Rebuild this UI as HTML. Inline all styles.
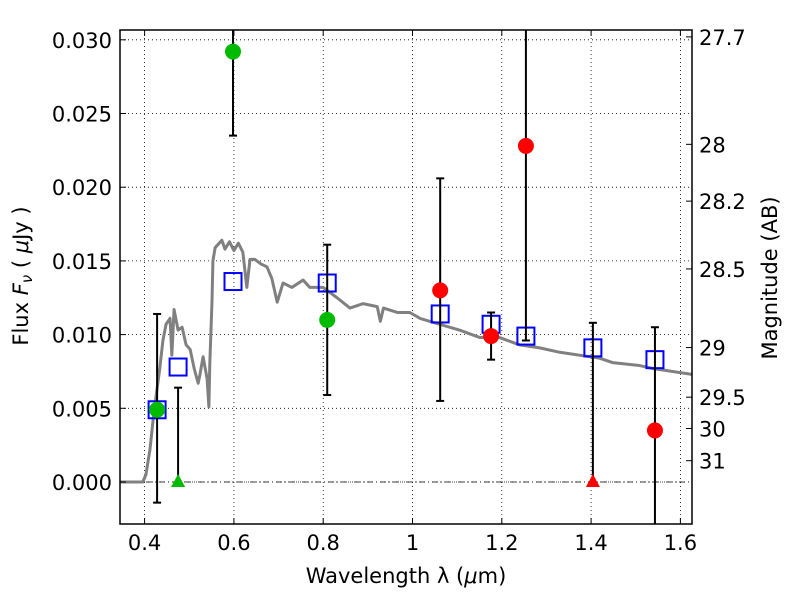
<!DOCTYPE html>
<html><head><meta charset="utf-8"><style>
body{margin:0;background:#fff}
svg{font-family:"DejaVu Sans","Liberation Sans",sans-serif}
</style></head><body>
<svg id="c" width="800" height="600"></svg>
<script>
const specWl=[0.345,0.396,0.403,0.412,0.419,0.426,0.434,0.441,0.448,0.457,0.461,0.466,0.475,0.484,0.493,0.502,0.511,0.520,0.524,0.531,0.540,0.544,0.546,0.551,0.553,0.558,0.564,0.573,0.580,0.590,0.600,0.610,0.620,0.629,0.636,0.647,0.660,0.674,0.685,0.697,0.710,0.730,0.755,0.770,0.800,0.831,0.860,0.889,0.921,0.928,0.935,0.966,0.994,1.017,1.061,1.106,1.151,1.195,1.240,1.285,1.330,1.419,1.448,1.509,1.538,1.626];
const specFlux=[0,0,0.0005,0.0022,0.0042,0.0059,0.0077,0.0096,0.0107,0.0111,0.0086,0.0117,0.0103,0.0105,0.0093,0.0090,0.0077,0.0067,0.0073,0.0085,0.0070,0.0051,0.0080,0.0123,0.0150,0.0159,0.0161,0.0164,0.0158,0.0163,0.0157,0.0162,0.0156,0.0132,0.0151,0.0151,0.0148,0.0146,0.0138,0.0122,0.0135,0.0132,0.0137,0.0132,0.0132,0.0125,0.0118,0.0121,0.0119,0.0109,0.0118,0.0115,0.0115,0.0111,0.0107,0.0103,0.0098,0.0098,0.0093,0.0091,0.0088,0.0084,0.0081,0.0079,0.0077,0.0073];
const modelWl=[0.428,0.475,0.598,0.809,1.062,1.176,1.254,1.404,1.543];
const modelFlux=[0.0049,0.0078,0.0136,0.0135,0.0114,0.0107,0.0099,0.0091,0.0083];
const greenWl=[0.428,0.598,0.809];
const greenFlux=[0.0049,0.0292,0.0110];
const greenLo=[-0.0014,0.0235,0.0059];
const greenHi=[0.0114,0.034,0.0161];
const greenLimWl=[0.475];
const greenLimHi=[0.0064];
const redWl=[1.062,1.176,1.254,1.543];
const redFlux=[0.0130,0.0099,0.0228,0.0035];
const redLo=[0.0055,0.0083,0.0096,-0.005];
const redHi=[0.0206,0.0115,0.035,0.0105];
const redLimWl=[1.404];
const redLimHi=[0.0108];
const xTicks=[0.4,0.6,0.8,1.0,1.2,1.4,1.6];
const xLabels=["0.4","0.6","0.8","1","1.2","1.4","1.6"];
const yTicks=[0,0.005,0.01,0.015,0.02,0.025,0.03];
const yLabels=["0.000","0.005","0.010","0.015","0.020","0.025","0.030"];
const magTicks=[27.7,28,28.2,28.5,29,29.5,30,31];
const magLabels=["27.7","28","28.2","28.5","29","29.5","30","31"];

const L=120,R=692,T=30,B=524;
const X=v=>144.6+(v-0.4)*446.5;
const Y=v=>482-v*14740;
const NS="http://www.w3.org/2000/svg";
const svg=document.getElementById('c');
function mk(tag,attrs,parent){const e=document.createElementNS(NS,tag);for(const k in attrs)e.setAttribute(k,attrs[k]);(parent||svg).appendChild(e);return e;}
const defs=mk('defs',{});
const cp=mk('clipPath',{id:'clip'},defs);
mk('rect',{x:L,y:T,width:R-L,height:B-T},cp);

const grid=mk('g',{stroke:'#000','stroke-width':0.8,'stroke-dasharray':'1,3'});


xTicks.forEach(t=>mk('line',{x1:X(t),x2:X(t),y1:T,y2:B},grid));
yTicks.forEach(t=>mk('line',{x1:L,x2:R,y1:Y(t),y2:Y(t)},grid));

const plot=mk('g',{'clip-path':'url(#clip)'});
const zl=mk('line',{x1:L,x2:R,y1:Y(0),y2:Y(0),stroke:'#000','stroke-width':0.8,'stroke-dasharray':'6,3,1,3'},plot);



const sp=mk('polyline',{points:specWl.map((w,i)=>X(w)+','+Y(specFlux[i])).join(' '),fill:'none',stroke:'#808080','stroke-width':3,'stroke-linejoin':'round'},plot);



modelWl.forEach((w,i)=>{
  const r=mk('rect',{x:X(w)-8.5,y:Y(modelFlux[i])-8.5,width:17,height:17,fill:'none',stroke:'#0000ff','stroke-width':2},plot);
  
  
});
function err(w,lo,hi,capLo){
  const g=mk('g',{stroke:'#000','stroke-width':2},plot);
  
  
  mk('line',{x1:X(w),x2:X(w),y1:Y(lo),y2:Y(hi)},g);
  mk('line',{x1:X(w)-4,x2:X(w)+4,y1:Y(hi),y2:Y(hi)},g);
  if(capLo)mk('line',{x1:X(w)-4,x2:X(w)+4,y1:Y(lo),y2:Y(lo)},g);
}
function tri(w,col){
  const x=X(w),y=Y(0);
  const p=mk('polygon',{points:`${x},${y-8} ${x-7},${y+5} ${x+7},${y+5}`,fill:col},plot);
  
  
}
greenWl.forEach((w,i)=>{
  err(w,greenLo[i],greenHi[i],true);
  const c=mk('circle',{cx:X(w),cy:Y(greenFlux[i]),r:8,fill:'#00bb00'},plot);
  
  
});
greenLimWl.forEach((w,i)=>{err(w,0,greenLimHi[i],false);tri(w,'#00bb00');});
redWl.forEach((w,i)=>{
  err(w,redLo[i],redHi[i],true);
  const c=mk('circle',{cx:X(w),cy:Y(redFlux[i]),r:8,fill:'#ff0000'},plot);
  
  
});
redLimWl.forEach((w,i)=>{err(w,0,redLimHi[i],false);tri(w,'#ff0000');});

const fr=mk('rect',{x:L,y:T,width:R-L,height:B-T,fill:'none',stroke:'#000','stroke-width':1.5});



const ax=mk('g',{stroke:'#000','stroke-width':1});
xTicks.forEach((t,i)=>{
  mk('line',{x1:X(t),x2:X(t),y1:B,y2:B-6},ax);mk('line',{x1:X(t),x2:X(t),y1:T,y2:T+6},ax);
  const tx=mk('text',{x:X(t),y:B+26,'font-size':21,'text-anchor':'middle',stroke:'none',fill:'#000'});
  tx.textContent=xLabels[i];
  
  
});
yTicks.forEach((t,i)=>{
  mk('line',{x1:L,x2:L+6,y1:Y(t),y2:Y(t)},ax);
  const tx=mk('text',{x:L-8,y:Y(t)+8,'font-size':21,'text-anchor':'end',stroke:'none',fill:'#000'});
  tx.textContent=yLabels[i];
  
  
});
magTicks.forEach((m,i)=>{
  const y=Y(Math.pow(10,(23.9-m)/2.5));
  mk('line',{x1:R-6,x2:R,y1:y,y2:y},ax);
  const tx=mk('text',{x:R+7,y:y+8,'font-size':21,stroke:'none',fill:'#000'});
  tx.textContent=magLabels[i];
  
  
});
</script>
<svg width="800" height="600" style="position:absolute;left:0;top:0">
<text x="406" y="583" font-size="21" text-anchor="middle" font-family="DejaVu Sans,sans-serif">Wavelength  λ (<tspan font-style="italic">μ</tspan>m)</text>
<text transform="translate(28,276) rotate(-90)" font-size="21" text-anchor="middle" font-family="DejaVu Sans,sans-serif">Flux  <tspan font-style="italic">F</tspan><tspan font-style="italic" font-size="15" dy="4">ν</tspan><tspan dy="-4">  ( </tspan><tspan font-style="italic">μ</tspan>Jy )</text>
<text transform="translate(777,278) rotate(-90)" font-size="21" text-anchor="middle" font-family="DejaVu Sans,sans-serif">Magnitude (AB)</text>
</svg>
</body></html>
